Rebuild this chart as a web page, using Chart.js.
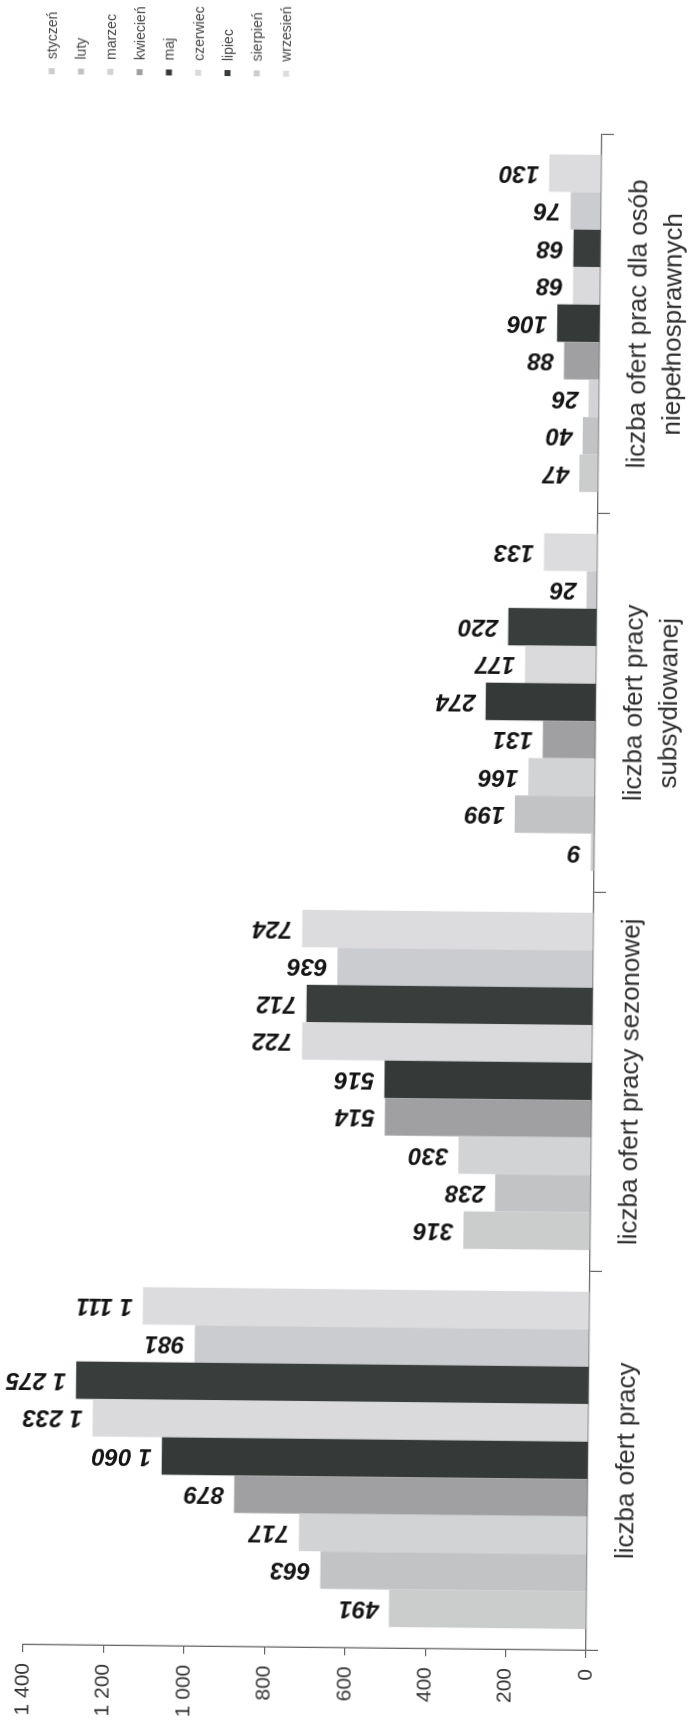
<!DOCTYPE html>
<html><head><meta charset="utf-8">
<script src="https://cdn.jsdelivr.net/npm/chart.js@4.4.1/dist/chart.umd.min.js"></script>
<style>
html,body{margin:0;padding:0;background:#fff;overflow:hidden;width:691px;height:1720px;}
#wrap{position:absolute;left:0;top:0;width:1720px;height:691px;transform-origin:0 0;transform:translate(-8.7px,1716.7px) rotate(-89.4deg);}
</style></head><body>
<div id="wrap"><canvas id="c"></canvas></div>
<script>
const categories = [
  ['liczba ofert pracy'],
  ['liczba ofert pracy sezonowej'],
  ['liczba ofert pracy', 'subsydiowanej'],
  ['liczba ofert prac dla osób', 'niepełnosprawnych']
];
const months = ['styczeń','luty','marzec','kwiecień','maj','czerwiec','lipiec','sierpień','wrzesień'];
const styczen = [491, 316, 9, 47];
const luty = [663, 238, 199, 40];
const marzec = [717, 330, 166, 26];
const kwiecien = [879, 514, 131, 88];
const maj = [1060, 516, 274, 106];
const czerwiec = [1233, 722, 177, 68];
const lipiec = [1275, 712, 220, 68];
const sierpien = [981, 636, 26, 76];
const wrzesien = [1111, 724, 133, 130];
const yTicks = [0, 200, 400, 600, 800, 1000, 1200, 1400];
const colors = ['#cacdcc','#c2c3c5','#d2d3d5','#a0a0a2','#353a38','#dadadd','#393e3c','#cbccd0','#dcdcdf'];

const series = [styczen, luty, marzec, kwiecien, maj, czerwiec, lipiec, sierpien, wrzesien];
const fmt = v => String(v).replace(/\B(?=(\d{3})+(?!\d))/g, ' ');
const FONT = '"Liberation Sans", Arial, sans-serif';

const valueLabels = {
  id: 'valueLabels',
  afterDatasetsDraw(chart) {
    const ctx = chart.ctx;
    ctx.save();
    ctx.font = 'italic bold 24px ' + FONT;
    ctx.fillStyle = '#141414';
    ctx.textAlign = 'left';
    ctx.textBaseline = 'middle';
    chart.data.datasets.forEach((ds, di) => {
      chart.getDatasetMeta(di).data.forEach((el, i) => {
        ctx.save();
        ctx.translate(el.x, el.y - 10);
        ctx.rotate(-Math.PI / 2);
        ctx.fillText(fmt(ds.data[i]), 0, 0);
        ctx.restore();
      });
    });
    ctx.restore();
  }
};

const customLegend = {
  id: 'customLegend',
  afterDraw(chart) {
    const ctx = chart.ctx;
    ctx.save();
    ctx.font = '14px ' + FONT;
    ctx.textAlign = 'left';
    ctx.textBaseline = 'middle';
    chart.data.datasets.forEach((ds, i) => {
      const cy = 43.2 + 29.3 * i;
      ctx.fillStyle = ds.backgroundColor;
      ctx.fillRect(1643, cy - 3, 6, 6);
      ctx.fillStyle = '#444';
      ctx.fillText(ds.label, 1658, cy + 1);
    });
    ctx.restore();
  }
};

new Chart(document.getElementById('c'), {
  type: 'bar',
  data: {
    labels: categories,
    datasets: months.map((m, i) => ({
      label: m,
      data: series[i],
      backgroundColor: colors[i],
      borderWidth: 0,
      categoryPercentage: 0.89,
      barPercentage: 1.0
    }))
  },
  options: {
    responsive: true,
    maintainAspectRatio: false,
    animation: false,
    layout: { padding: { top: 31, right: 131, bottom: 0, left: 0 } },
    plugins: { legend: { display: false }, tooltip: { enabled: false } },
    scales: {
      x: {
        offset: true,
        grid: { offset: true, drawOnChartArea: false, drawTicks: true, tickLength: 12, color: '#666', lineWidth: 1.2 },
        border: { display: true, color: '#666', width: 1.3 },
        ticks: { font: { family: FONT, size: 26, lineHeight: 1.35 }, color: '#2e2e2e', padding: 9, maxRotation: 0, minRotation: 0, autoSkip: false },
        afterFit: s => { s.height = 97; }
      },
      y: {
        min: yTicks[0],
        max: yTicks[yTicks.length - 1],
        afterBuildTicks: s => { s.ticks = yTicks.map(v => ({ value: v })); },
        grid: { drawOnChartArea: false, drawTicks: true, tickLength: 8, color: '#666', lineWidth: 1.2 },
        border: { display: true, color: '#666', width: 1.3 },
        ticks: { font: { family: FONT, size: 21 }, color: '#333', padding: 11, callback: v => fmt(v) },
        afterFit: s => { s.width = 73; }
      }
    }
  },
  plugins: [valueLabels, customLegend]
});
</script>
</body></html>
